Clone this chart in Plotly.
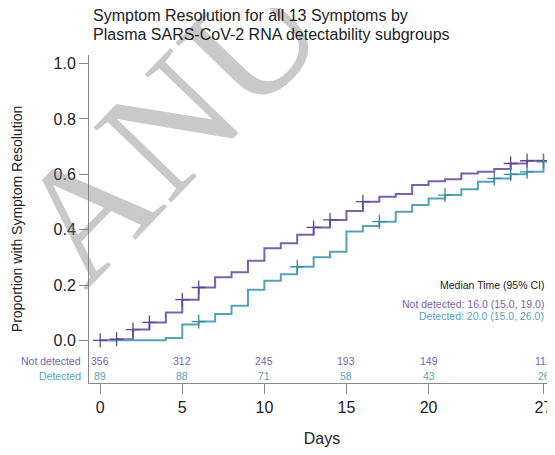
import plotly.graph_objects as go

# ---- data ----
days = list(range(0, 28))
not_detected = [0, 0.004, 0.039, 0.065, 0.101, 0.147, 0.191, 0.228, 0.246, 0.288,
                0.333, 0.351, 0.382, 0.408, 0.435, 0.467, 0.501, 0.519, 0.529, 0.561,
                0.575, 0.582, 0.603, 0.609, 0.619, 0.639, 0.649, 0.649]
detected = [0, 0, 0, 0, 0.009, 0.057, 0.068, 0.095, 0.125, 0.183,
            0.215, 0.239, 0.266, 0.300, 0.320, 0.393, 0.413, 0.429, 0.465, 0.489,
            0.513, 0.525, 0.546, 0.573, 0.585, 0.600, 0.609, 0.645]
censor_not_detected = [0, 1, 2, 3, 5, 6, 13, 14, 16, 25, 26, 27]
censor_detected = [6, 12, 17, 21, 24, 25, 26, 27]

risk_days = [0, 5, 10, 15, 20, 27]
risk_not_detected = [356, 312, 245, 193, 149, 112]
risk_detected = [89, 88, 71, 58, 43, 26]

x_ticks = [0, 5, 10, 15, 20, 27]
y_ticks = [0, 0.2, 0.4, 0.6, 0.8, 1.0]

c_nd = "#7a62ad"
c_d = "#58a2b8"
FONT = "Liberation Sans, Arial, sans-serif"

fig = go.Figure()
fig.add_trace(go.Scatter(x=days, y=not_detected, mode="lines", line=dict(color=c_nd, width=2, shape="hv"),
                         showlegend=False, hoverinfo="skip"))
fig.add_trace(go.Scatter(x=days, y=detected, mode="lines", line=dict(color=c_d, width=2, shape="hv"),
                         showlegend=False, hoverinfo="skip"))
fig.add_trace(go.Scatter(x=censor_not_detected, y=[not_detected[d] for d in censor_not_detected], mode="markers",
                         marker=dict(symbol="cross-thin", size=10, line=dict(color="#5e4596", width=1.3)),
                         showlegend=False, hoverinfo="skip"))
fig.add_trace(go.Scatter(x=censor_detected, y=[detected[d] for d in censor_detected], mode="markers",
                         marker=dict(symbol="cross-thin", size=10, line=dict(color="#3f8aa2", width=1.3)),
                         showlegend=False, hoverinfo="skip"))

ann = []
# watermark (drawn first)
ann.append(dict(x=0.173, y=0.787, xref="paper", yref="paper", xanchor="center", yanchor="middle",
                text="ANU", textangle=-46, showarrow=False,
                font=dict(size=165, color="rgba(120,120,120,0.4)", family="Liberation Serif, serif")))
# title
ann.append(dict(x=0.0043, y=1.1204, xref="paper", yref="paper", xanchor="left", yanchor="middle",
                text="Symptom Resolution for all 13 Symptoms by", showarrow=False,
                font=dict(size=16, color="#222222", family=FONT)))
ann.append(dict(x=0.0043, y=1.0625, xref="paper", yref="paper", xanchor="left", yanchor="middle",
                text="Plasma SARS-CoV-2 RNA detectability subgroups", showarrow=False,
                font=dict(size=16, color="#222222", family=FONT)))
# risk table
for d, n in zip(risk_days, risk_not_detected):
    ann.append(dict(x=d, y=-0.076, xref="x", yref="y", text=str(n), showarrow=False,
                    font=dict(size=10.5, color=c_nd, family=FONT)))
for d, n in zip(risk_days, risk_detected):
    ann.append(dict(x=d, y=-0.1275, xref="x", yref="y", text=str(n), showarrow=False,
                    font=dict(size=10.5, color=c_d, family=FONT)))
ann.append(dict(x=-0.0129, y=-0.076, xref="paper", yref="y", xanchor="right", text="Not detected",
                showarrow=False, font=dict(size=10.5, color=c_nd, family=FONT)))
ann.append(dict(x=-0.0129, y=-0.1275, xref="paper", yref="y", xanchor="right", text="Detected",
                showarrow=False, font=dict(size=10.5, color=c_d, family=FONT)))
# median text
ann.append(dict(x=0.981, y=0.199, xref="paper", yref="y", xanchor="right", text="Median Time (95% CI)",
                showarrow=False, font=dict(size=10.5, color="#222222", family=FONT)))
ann.append(dict(x=0.981, y=0.1326, xref="paper", yref="y", xanchor="right", text="Not detected: 16.0 (15.0, 19.0)",
                showarrow=False, font=dict(size=10.5, color=c_nd, family=FONT)))
ann.append(dict(x=0.981, y=0.0867, xref="paper", yref="y", xanchor="right", text="Detected: 20.0 (15.0, 26.0)",
                showarrow=False, font=dict(size=10.5, color=c_d, family=FONT)))

fig.update_layout(
    width=547, height=439,
    margin=dict(l=81, r=0, t=47, b=64),
    paper_bgcolor="white", plot_bgcolor="white",
    font=dict(family=FONT, color="#222222"),
    annotations=ann,
    xaxis=dict(range=[-0.68, 27.7], tickvals=x_ticks, ticktext=[str(v) for v in x_ticks],
               showline=True, linecolor="#8a8a8a", linewidth=1, ticks="outside", ticklen=10,
               tickcolor="#8a8a8a", showgrid=False, zeroline=False,
               tickfont=dict(size=16, color="#222222"),
               title=dict(text="Days", font=dict(size=16, color="#222222"), standoff=19)),
    yaxis=dict(range=[-0.154, 1.031], tickvals=y_ticks, ticktext=["0.0", "0.2", "0.4", "0.6", "0.8", "1.0"],
               showline=True, linecolor="#8a8a8a", linewidth=1, ticks="outside", ticklen=9,
               tickcolor="#8a8a8a", showgrid=False, zeroline=False,
               tickfont=dict(size=16, color="#222222"),
               title=dict(text="Proportion with Symptom Resolution", font=dict(size=14, color="#222222"),
                          standoff=27)),
)

fig.write_html("out.html")
